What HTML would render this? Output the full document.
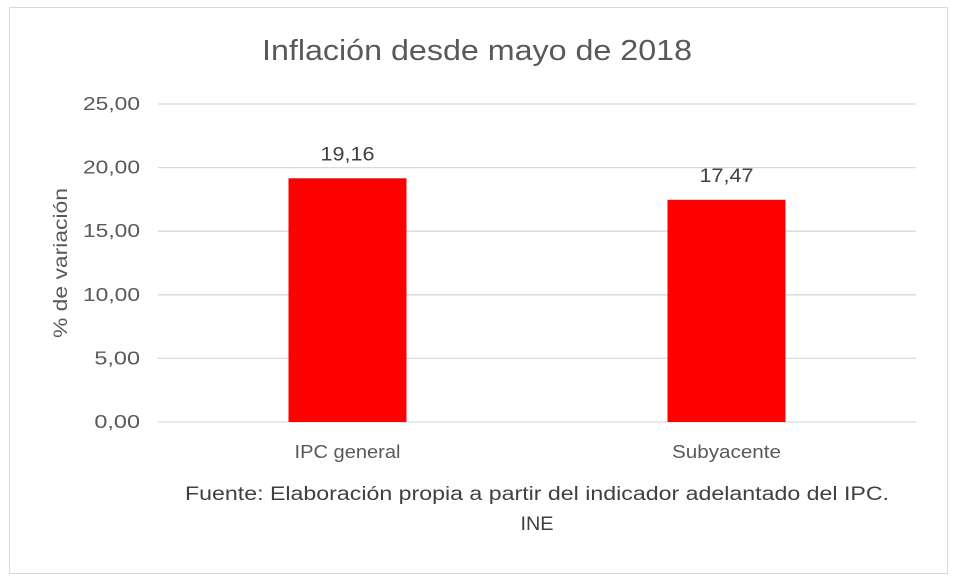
<!DOCTYPE html>
<html><head><meta charset="utf-8"><style>
body{margin:0;background:#fff;}
svg{display:block;font-family:"Liberation Sans",sans-serif;}
</style></head><body>
<svg id="c" width="957" height="583">
<rect x="9.5" y="7.5" width="938" height="566" fill="#fff" stroke="#d9d9d9"/>
<text x="477" y="60" text-anchor="middle" font-size="29" fill="#595959" textLength="430" lengthAdjust="spacingAndGlyphs">Inflación desde mayo de 2018</text>
<text transform="translate(67,263) rotate(-90)" text-anchor="middle" font-size="19" fill="#595959" textLength="150" lengthAdjust="spacingAndGlyphs">% de variación</text>
<text x="537" y="500" text-anchor="middle" font-size="19" fill="#404040" textLength="704" lengthAdjust="spacingAndGlyphs">Fuente: Elaboración propia a partir del indicador adelantado del IPC.</text>
<text x="537" y="530" text-anchor="middle" font-size="19" fill="#404040" textLength="33" lengthAdjust="spacingAndGlyphs">INE</text>
<g id="g"></g>
</svg>
<script>
const categories=["IPC general","Subyacente"];
const values=[19.16,17.47];
const valueLabels=["19,16","17,47"];
const ticks=[0,5,10,15,20,25];
const tickLabels=["0,00","5,00","10,00","15,00","20,00","25,00"];
const ns="http://www.w3.org/2000/svg",g=document.getElementById("g");
const x0=158,x1=916,y0=422,yTop=104,max=25;
const y=v=>y0-(y0-yTop)*v/max;
const band=(x1-x0)/categories.length,bw=118;
function mk(t,a){const e=document.createElementNS(ns,t);for(const k in a)e.setAttribute(k,a[k]);g.appendChild(e);return e;}
ticks.forEach((t,i)=>{
const l=mk("line",{x1:x0,x2:x1,y1:y(t),y2:y(t),stroke:"#d9d9d9","stroke-width":1.3});


const tx=mk("text",{x:140,y:y(t)+6,"text-anchor":"end","font-size":18,fill:"#595959"});
tx.textContent=tickLabels[i];
tx.setAttribute('textLength',String(tickLabels[i].length*11.4));
tx.setAttribute('lengthAdjust','spacingAndGlyphs');


});
const catLen=[106,109];
categories.forEach((c,i)=>{
const cx=x0+band*(i+0.5);
const r=mk("rect",{x:cx-bw/2,y:y(values[i]),width:bw,height:y0-y(values[i]),fill:"#ff0000"});


const v=mk("text",{x:cx,y:y(values[i])-18,"text-anchor":"middle","font-size":19,fill:"#404040",textLength:54,lengthAdjust:"spacingAndGlyphs"});
v.textContent=valueLabels[i];


const cl=mk("text",{x:cx,y:458,"text-anchor":"middle","font-size":18,fill:"#595959",textLength:catLen[i],lengthAdjust:"spacingAndGlyphs"});
cl.textContent=c;


});
</script>
</body></html>
